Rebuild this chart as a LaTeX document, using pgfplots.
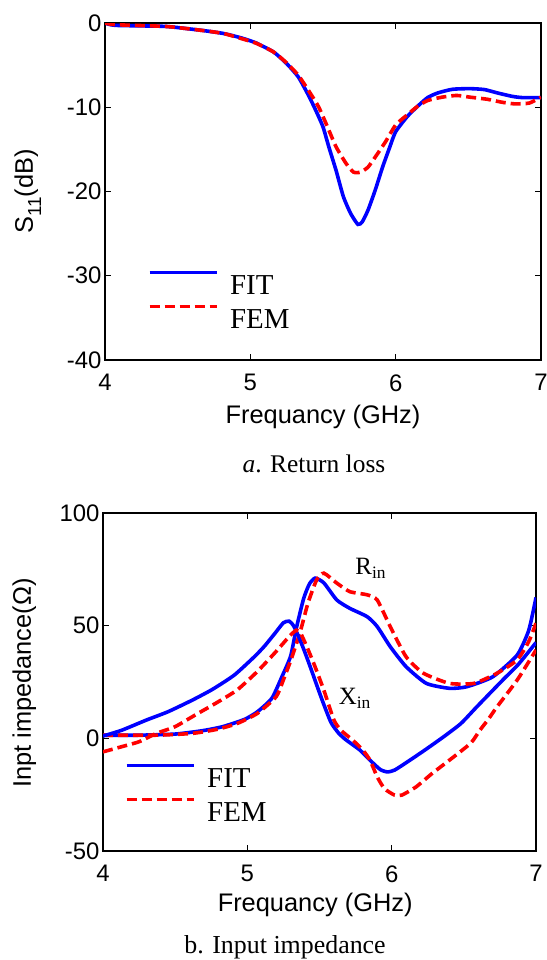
\documentclass[border=0pt]{standalone}
\usepackage{fontspec}
\setmainfont{Liberation Serif}
\setsansfont{Liberation Sans}
\usepackage{pgfplots}
\pgfplotsset{compat=1.18}
\definecolor{mblue}{RGB}{0,0,255}
\definecolor{mred}{RGB}{255,0,0}
\pgfplotsset{
  mstyle/.style={
    scale only axis,
    xmin=4, xmax=7, xtick={4,5,6,7},
    axis line style={line width=1.2bp, black},
    every tick/.style={black, line width=1bp},
    major tick length=6bp,
    tick align=inside,
    /pgf/number format/assume math mode=true,
    ticklabel style={font=\fontsize{24}{28}\selectfont\sffamily},
    xticklabel style={yshift=-11bp},
    label style={font=\fontsize{25.5}{30}\selectfont\sffamily},
    legend style={draw=none, fill=none, inner sep=0pt, outer sep=0pt,
      font=\fontsize{29}{34}\selectfont, row sep=7bp,
      /tikz/every odd column/.append style={column sep=10bp},
      legend cell align=left},
    legend image code/.code={\draw[##1, line width=3.2bp] (0bp,13bp) -- (67bp,13bp);},
  },
  fitline/.style={mblue, line width=3.6bp, smooth, tension=0.35},
  femline/.style={mred, line width=3.6bp, dash pattern=on 10bp off 5bp, smooth, tension=0.35},
}
\begin{document}
\begin{tikzpicture}
\useasboundingbox (0,0) rectangle (547bp,-960bp);
\begin{axis}[mstyle,
  at={(105bp,-360bp)}, anchor=south west, width=436bp, height=337bp,
  ymin=-40, ymax=0, ytick={-40,-30,-20,-10,0},
  xlabel={Frequancy (GHz)},
  ylabel={S\raisebox{-0.32em}{\fontsize{19}{20}\selectfont 11}(dB)},
  xlabel style={at={(axis description cs:0.5,-0.169)}, anchor=center},
  ylabel style={at={(axis description cs:-0.177,0.5)}, anchor=center},
  legend style={at={(axis description cs:0.0986,0.264)}, anchor=north west},
]
\addplot[fitline] coordinates {
(4.00,0) (4.07,-0.28) (4.41,-0.4) (4.58,-0.7) (4.70,-0.95) (4.82,-1.26)
(4.94,-1.78) (5.04,-2.37) (5.16,-3.44) (5.25,-4.82) (5.33,-6.4) (5.40,-8.58)
(5.45,-10.36) (5.50,-12.33) (5.54,-14.7) (5.59,-17.5) (5.64,-20.6) (5.69,-22.6)
(5.74,-23.9) (5.77,-23.6) (5.81,-22.2) (5.86,-19.8) (5.91,-17.1) (5.96,-14.7)
(6.00,-12.9) (6.08,-11.1) (6.15,-9.9) (6.22,-8.85) (6.29,-8.3) (6.39,-7.87)
(6.51,-7.79) (6.61,-7.9) (6.70,-8.3) (6.80,-8.7) (6.87,-8.85) (7.00,-8.85)
};
\addlegendentry{FIT}
\addplot[femline] coordinates {
(4.00,0) (4.07,-0.2) (4.41,-0.4) (4.58,-0.7) (4.70,-0.95) (4.82,-1.26)
(4.94,-1.86) (5.04,-2.4) (5.16,-3.44) (5.25,-4.74) (5.33,-6.2) (5.40,-8.0)
(5.47,-9.96) (5.53,-12.3) (5.59,-14.7) (5.66,-16.7) (5.71,-17.7) (5.76,-17.7)
(5.81,-17.1) (5.86,-15.9) (5.93,-14.1) (6.00,-12.1) (6.08,-10.9) (6.15,-9.9)
(6.22,-9.2) (6.32,-8.8) (6.42,-8.6) (6.51,-8.8) (6.63,-9.05) (6.73,-9.4)
(6.82,-9.6) (6.92,-9.5) (7.00,-8.8)
};
\addlegendentry{FEM}
\end{axis}

\node[font=\fontsize{25.5}{30}\selectfont] at (314bp,-464bp) {\textit{a}. Return loss};

\begin{axis}[mstyle,
  at={(103bp,-851bp)}, anchor=south west, width=433bp, height=338bp,
  ymin=-50, ymax=100, ytick={-50,0,50,100},
  xlabel={Frequancy (GHz)},
  ylabel={Inpt impedance(Ω)},
  xlabel style={at={(axis description cs:0.49,-0.16)}, anchor=center},
  ylabel style={at={(axis description cs:-0.182,0.497)}, anchor=center},
  legend style={at={(axis description cs:0.0508,0.257)}, anchor=north west},
]
\addplot[fitline] coordinates {
(4.00,1.4) (4.25,1.4) (4.50,1.9) (4.69,3.4) (4.83,5.2) (4.98,8.4) (5.07,11.8)
(5.17,17.8) (5.24,27.4) (5.30,36.5) (5.34,49) (5.39,62) (5.43,68.5) (5.47,71.1)
(5.53,69.0) (5.62,61.4) (5.71,57.7) (5.83,54.0) (5.90,49.6) (5.99,40.7)
(6.10,31.8) (6.24,24.4) (6.40,22.2) (6.52,22.9) (6.70,27.3) (6.87,37)
(6.95,48) (7.00,62.5)
};
\addlegendentry{FIT}
\addplot[femline] coordinates {
(4.00,1.4) (4.37,1.4) (4.62,2.2) (4.79,4.0) (4.93,6.6) (5.07,11.1) (5.20,18.5)
(5.25,26) (5.31,36.2) (5.37,48.1) (5.42,60.0) (5.48,70.3) (5.53,73.3)
(5.62,68.9) (5.71,65.1) (5.83,63.7) (5.90,61.4) (5.99,49.6) (6.10,36.2)
(6.22,28.9) (6.40,24.4) (6.57,24.4) (6.73,28.9) (6.87,34.8) (6.95,43) (7.00,51.1)
};
\addlegendentry{FEM}
\addplot[fitline, forget plot] coordinates {
(4.00,1.0) (4.13,3.6) (4.30,8.1) (4.45,11.8) (4.62,17.0) (4.76,21.8) (4.91,28.1)
(5.05,36.3) (5.12,41.0) (5.19,46.5) (5.25,51.3) (5.29,52.0) (5.32,50.0)
(5.36,44.5) (5.40,38.0) (5.44,31.0) (5.49,22.0) (5.53,15.0) (5.58,7.0) (5.63,2.5)
(5.68,-0.5) (5.78,-5.2) (5.85,-9.7) (5.92,-13.8) (5.97,-14.9) (6.02,-14.1)
(6.11,-10.4) (6.23,-5.2) (6.36,0.7) (6.48,6.6) (6.59,14.0) (6.77,25.9)
(6.88,33) (7.00,42.5)
};
\addplot[femline, forget plot] coordinates {
(4.00,-6.0) (4.13,-3.7) (4.25,-1.5) (4.37,2.2) (4.50,5.2) (4.64,10.4) (4.79,15.9)
(4.93,21.5) (5.07,29.7) (5.20,38.6) (5.29,45.2) (5.34,48.0) (5.37,46.5)
(5.41,41.0) (5.46,33.3) (5.53,21.4) (5.60,8.1) (5.65,3.5) (5.73,-0.8)
(5.80,-5.2) (5.85,-9.7) (5.90,-17.1) (5.95,-22.3) (6.02,-25.2) (6.07,-25.2)
(6.17,-21.5) (6.28,-15.6) (6.43,-8.2) (6.55,-2.0) (6.61,3.5) (6.67,8.5)
(6.73,14.0) (6.87,25.9) (7.00,39.2)
};
\node[anchor=base west, font=\fontsize{25}{30}\selectfont] at (axis cs:5.725,72.6) {R\textsubscript{in}};
\node[anchor=base west, font=\fontsize{25}{30}\selectfont] at (axis cs:5.61,14.8) {X\textsubscript{in}};
\end{axis}

\node[font=\fontsize{26}{30}\selectfont] at (285bp,-947bp) {b. Input impedance};
\end{tikzpicture}
\end{document}
